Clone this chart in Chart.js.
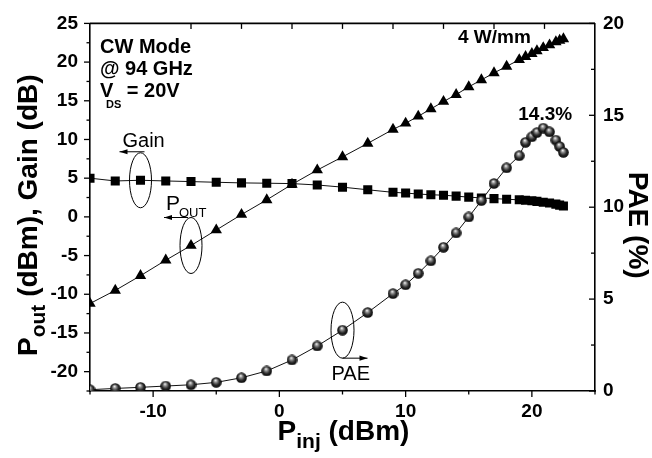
<!DOCTYPE html>
<html><head><meta charset="utf-8">
<script src="https://cdn.jsdelivr.net/npm/chart.js@4/dist/chart.umd.min.js"></script>
<style>html,body{margin:0;padding:0;background:#fff}canvas{display:block}</style>
</head><body>
<canvas id="c" width="652" height="458"></canvas>
<script>
// ---- data ----
const pinj = [-15,-13,-11,-9,-7,-5,-3,-1,1,3,5,7,9,10,11,12,13,14,15,16,17,18,19,19.5,20,20.4,20.9,21.4,21.9,22.2,22.5];
const gain = [5.0,4.64,4.73,4.64,4.56,4.47,4.39,4.35,4.3,4.12,3.84,3.5,3.17,3.08,2.95,2.86,2.8,2.68,2.55,2.45,2.36,2.28,2.2,2.15,2.08,2.0,1.9,1.8,1.65,1.52,1.4];
const pout = [-11.2,-9.5,-7.6,-5.6,-3.7,-1.7,0.3,2.2,4.2,6.05,7.75,9.5,11.3,12.1,13.0,13.95,14.9,15.8,16.8,17.7,18.6,19.45,20.3,20.7,21.1,21.45,21.85,22.2,22.6,22.8,23.0];
const pae  = [0.07,0.14,0.2,0.27,0.34,0.47,0.72,1.09,1.69,2.45,3.31,4.27,5.3,5.78,6.4,7.08,7.82,8.6,9.47,10.36,11.29,12.14,12.8,13.53,13.83,14.06,14.3,14.1,13.65,13.3,12.98];
const xTickLabels = [-10,0,10,20];
const yLeftTickLabels = [-20,-15,-10,-5,0,5,10,15,20,25];
const yRightTickLabels = [0,5,10,15,20];
const topTickValues = [-7,-3,1,5,9,13,17,21];
const notes = ['CW Mode','@ 94 GHz','V','DS',' = 20V','4 W/mm','14.3%','Gain','P','OUT','PAE'];

const FONT = 'Arial, "Liberation Sans", sans-serif';

// shaded sphere marker for PAE
const sphere = (() => {
  const s = 11, c = document.createElement('canvas'); c.width = s; c.height = s;
  const g = c.getContext('2d');
  const grd = g.createRadialGradient(s/2-0.8, s/2-2.2, 0.2, s/2, s/2, s/2);
  grd.addColorStop(0, '#f6f6f6');
  grd.addColorStop(0.28, '#8c8c8c');
  grd.addColorStop(0.62, '#2b2b2b');
  grd.addColorStop(1, '#000');
  g.fillStyle = grd; g.beginPath(); g.arc(s/2, s/2, s/2-0.2, 0, Math.PI*2); g.fill();
  return c;
})();

const pts = arr => pinj.map((x,i)=>({x, y: arr[i]}));

function line(ctx,x1,y1,x2,y2){ctx.beginPath();ctx.moveTo(x1,y1);ctx.lineTo(x2,y2);ctx.stroke();}
function arrow(ctx,x1,y,x2){ // from x1 to tip x2
  ctx.lineWidth=1; line(ctx,x1,y,x2,y);
  const d = Math.sign(x2-x1);
  ctx.beginPath(); ctx.moveTo(x2,y); ctx.lineTo(x2-d*8,y-2.6); ctx.lineTo(x2-d*8,y+2.6); ctx.closePath(); ctx.fill();
}
function ellipse(ctx,cx,cy,rx,ry){ctx.lineWidth=1;ctx.beginPath();ctx.ellipse(cx,cy,rx,ry,0,0,Math.PI*2);ctx.stroke();}

const decor = {
  id:'decor',
  afterDatasetsDraw(chart){
    const {ctx, chartArea:a, scales:{x,y,y1}} = chart;
    ctx.save();
    ctx.strokeStyle='#000'; ctx.fillStyle='#000';
    // top frame line
    ctx.lineWidth=1.6; line(ctx,a.left,a.top,a.right,a.top);
    ctx.lineWidth=1.3;
    // left ticks (outward)
    for(let v=y.min; v<=y.max+1e-6; v+=2.5){const p=y.getPixelForValue(v);const L=(Math.abs(v%5)<1e-6)?6:3.5;line(ctx,a.left-L,p,a.left,p);}
    // right ticks (inward)
    for(let v=y1.min; v<=y1.max+1e-6; v+=2.5){const p=y1.getPixelForValue(v);const L=(Math.abs(v%5)<1e-6)?6:4;line(ctx,a.right-L,p,a.right,p);}
    // bottom ticks (outward)
    for(let v=x.min; v<=x.max+1e-6; v+=5){const p=x.getPixelForValue(v);const L=(Math.abs(v%10)<1e-6)?6:3.5;line(ctx,p,a.bottom,p,a.bottom+L);}
    // top ticks (inward)
    topTickValues.forEach(v=>{const p=x.getPixelForValue(v);line(ctx,p,a.top,p,a.top+5.5);});

    // annotations
    ctx.textAlign='left'; ctx.textBaseline='alphabetic';
    ctx.font='bold 20px '+FONT;
    ctx.fillText(notes[0], a.left+10, a.top+30);
    ctx.fillText(notes[1], a.left+10, a.top+52);
    ctx.fillText(notes[2], a.left+10, a.top+74);
    ctx.font='bold 11px '+FONT; ctx.fillText(notes[3], a.left+16, a.top+85);
    const dw = ctx.measureText(notes[3]).width;
    ctx.font='bold 20px '+FONT; ctx.fillText(notes[4], a.left+16+dw, a.top+74);
    ctx.font='bold 19px '+FONT; ctx.fillText(notes[5], a.left+368, a.top+20);
    // 14.3% above the PAE peak
    const iPk = pae.indexOf(Math.max(...pae));
    ctx.textAlign='center';
    ctx.fillText(notes[6], x.getPixelForValue(pinj[iPk])+2, y1.getPixelForValue(pae[iPk])-8);

    // Gain ellipse + arrow + label
    ctx.textAlign='left';
    let cx=x.getPixelForValue(pinj[2]), cy=y.getPixelForValue(gain[2]);
    ellipse(ctx,cx,cy,11,27.5);
    arrow(ctx,cx+4,cy-28.5,cx-21);
    ctx.font='20px '+FONT; ctx.fillText(notes[7], cx-18, cy-33);
    // Pout ellipse + arrow + label
    cx=x.getPixelForValue(pinj[4]); cy=y.getPixelForValue(pout[4]);
    ellipse(ctx,cx,cy,11,28);
    arrow(ctx,cx-3,cy-28,cx-27);
    ctx.font='21px '+FONT; ctx.fillText(notes[8], cx-25, cy-36);
    const pw=ctx.measureText(notes[8]).width;
    ctx.font='13px '+FONT; ctx.fillText(notes[9], cx-25+pw-1, cy-29);
    // PAE ellipse + arrow + label
    cx=x.getPixelForValue(pinj[10]); cy=y1.getPixelForValue(pae[10]);
    ellipse(ctx,cx,cy,11.5,28);
    arrow(ctx,cx,cy+28,cx+25);
    ctx.font='20px '+FONT; ctx.fillText(notes[10], cx-11, cy+50);

    // axis titles
    const big='bold 28px '+FONT, sub='bold 21px '+FONT;
    // left
    ctx.save(); ctx.translate(37,(a.top+a.bottom)/2+8); ctx.rotate(-Math.PI/2);
    ctx.font=big; const w1=ctx.measureText('P').width, w3=ctx.measureText(' (dBm), Gain (dB)').width;
    ctx.font=sub; const w2=ctx.measureText('out').width;
    let s=-(w1+w2+w3)/2;
    ctx.font=big; ctx.fillText('P',s,0); ctx.font=sub; ctx.fillText('out',s+w1,8); ctx.font=big; ctx.fillText(' (dBm), Gain (dB)',s+w1+w2,0);
    ctx.restore();
    // bottom
    ctx.font=big; const b1=ctx.measureText('P').width, b3=ctx.measureText(' (dBm)').width;
    ctx.font=sub; const b2=ctx.measureText('inj').width;
    s=(a.left+a.right)/2-(b1+b2+b3)/2+1;
    ctx.font=big; ctx.fillText('P',s,a.bottom+49); ctx.font=sub; ctx.fillText('inj',s+b1,a.bottom+57); ctx.font=big; ctx.fillText(' (dBm)',s+b1+b2,a.bottom+49);
    // right
    ctx.save(); ctx.translate(629,(a.top+a.bottom)/2+18); ctx.rotate(Math.PI/2);
    ctx.textAlign='center'; ctx.font=big; ctx.fillText('PAE (%)',0,0);
    ctx.restore();
    ctx.restore();
  }
};

const tickFont = {family: FONT, size: 19, weight: 'bold'};
new Chart(document.getElementById('c'), {
  type:'line',
  data:{datasets:[
    {label:'PAE', data:pts(pae), yAxisID:'y1', pointStyle:sphere, pointRadius:5, borderColor:'#111', borderWidth:1, tension:0},
    {label:'Pout', data:pts(pout), yAxisID:'y', pointStyle:'triangle', pointRadius:6.6, pointBackgroundColor:'#000', pointBorderColor:'#000', pointBorderWidth:0, borderColor:'#111', borderWidth:1, tension:0},
    {label:'Gain', data:pts(gain), yAxisID:'y', pointStyle:'rect', pointRadius:6.4, pointBackgroundColor:'#000', pointBorderColor:'#000', pointBorderWidth:0, borderColor:'#111', borderWidth:1, tension:0}
  ]},
  options:{
    responsive:false, animation:false, devicePixelRatio:1,
    layout:{padding:{top:16,left:0,right:0,bottom:0}},
    plugins:{legend:{display:false}, tooltip:{enabled:false}},
    scales:{
      x:{type:'linear', min:-15, max:25,
         afterBuildTicks:s=>{s.ticks=xTickLabels.map(v=>({value:v}));},
         grid:{display:false, drawTicks:false}, border:{display:true,color:'#000',width:1.6},
         ticks:{color:'#000', font:tickFont, padding:9, autoSkip:false, maxRotation:0},
         afterFit:s=>{s.height=67;}},
      y:{type:'linear', position:'left', min:-22.5, max:25,
         afterBuildTicks:s=>{s.ticks=yLeftTickLabels.map(v=>({value:v}));},
         grid:{display:false, drawTicks:false}, border:{display:true,color:'#000',width:1.6},
         ticks:{color:'#000', font:tickFont, padding:12, autoSkip:false},
         afterFit:s=>{s.width=90;}},
      y1:{type:'linear', position:'right', min:0, max:20,
         afterBuildTicks:s=>{s.ticks=yRightTickLabels.map(v=>({value:v}));},
         grid:{display:false, drawTicks:false}, border:{display:true,color:'#000',width:1.6},
         ticks:{color:'#000', font:tickFont, padding:8, autoSkip:false},
         afterFit:s=>{s.width=57;}}
    }
  },
  plugins:[decor]
});
</script>
</body></html>
